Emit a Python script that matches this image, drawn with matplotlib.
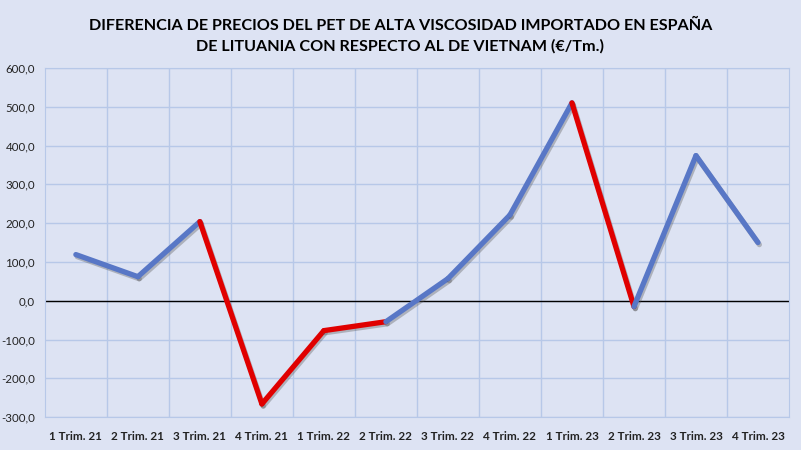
import matplotlib
matplotlib.use('Agg')
import matplotlib.pyplot as plt
import matplotlib.patheffects as pe
from matplotlib.ticker import FuncFormatter

# Data
quarters = ['1 Trim. 21', '2 Trim. 21', '3 Trim. 21', '4 Trim. 21',
            '1 Trim. 22', '2 Trim. 22', '3 Trim. 22', '4 Trim. 22',
            '1 Trim. 23', '2 Trim. 23', '3 Trim. 23', '4 Trim. 23']
diff = [119, 62, 204, -266, -77, -54, 57, 221, 510, -15, 374, 150]

# segments drawn in red (index of the starting point)
red_segments = [2, 3, 4, 8]

bg = '#dde3f3'
grid_col = '#b7c8e8'
blue = '#5877c6'
red = '#e00000'

plt.rcParams['font.family'] = ['Lato', 'DejaVu Sans']

fig = plt.figure(figsize=(8.01, 4.5), dpi=100)
fig.patch.set_facecolor(bg)
ax = fig.add_axes([0.056, 0.073, 0.929, 0.776])
ax.set_facecolor(bg)

x = list(range(len(quarters)))
shadow = [pe.SimpleLineShadow(offset=(1, -1.5), shadow_color='#555555', alpha=0.35), pe.Normal()]
for i in range(len(x) - 1):
    col = red if i in red_segments else blue
    ax.plot(x[i:i + 2], diff[i:i + 2], color=col, lw=3.8, solid_capstyle='round',
            solid_joinstyle='round', zorder=3, path_effects=shadow)

ax.axhline(0, color='black', lw=1, zorder=2)

ax.set_xlim(-0.5, len(quarters) - 0.5)
ax.set_ylim(-300, 600)
ax.set_yticks(range(-300, 601, 100))
ax.yaxis.set_major_formatter(FuncFormatter(lambda v, p: f'{v:.1f}'.replace('.', ',')))
ax.set_xticks(x)
ax.set_xticklabels(quarters, fontweight='bold', fontsize=8.4)
ax.set_xticks([i + 0.5 for i in x[:-1]], minor=True)

ax.grid(axis='y', which='major', color=grid_col, lw=1)
ax.grid(axis='x', which='minor', color=grid_col, lw=1)
ax.set_axisbelow(True)
for s in ax.spines.values():
    s.set_color(grid_col)
ax.tick_params(axis='both', which='both', length=0, colors='#222222')
ax.tick_params(axis='y', labelsize=8.3, pad=7)
ax.tick_params(axis='x', pad=10)

fig.text(0.5, 0.92, 'DIFERENCIA DE PRECIOS DEL PET DE ALTA VISCOSIDAD IMPORTADO EN ESPAÑA\n'
         'DE LITUANIA CON RESPECTO AL DE VIETNAM (€/Tm.)',
         ha='center', va='center', fontsize=11.6, fontweight='bold', linespacing=1.55)

plt.savefig('out.png', dpi=100, facecolor=bg)
